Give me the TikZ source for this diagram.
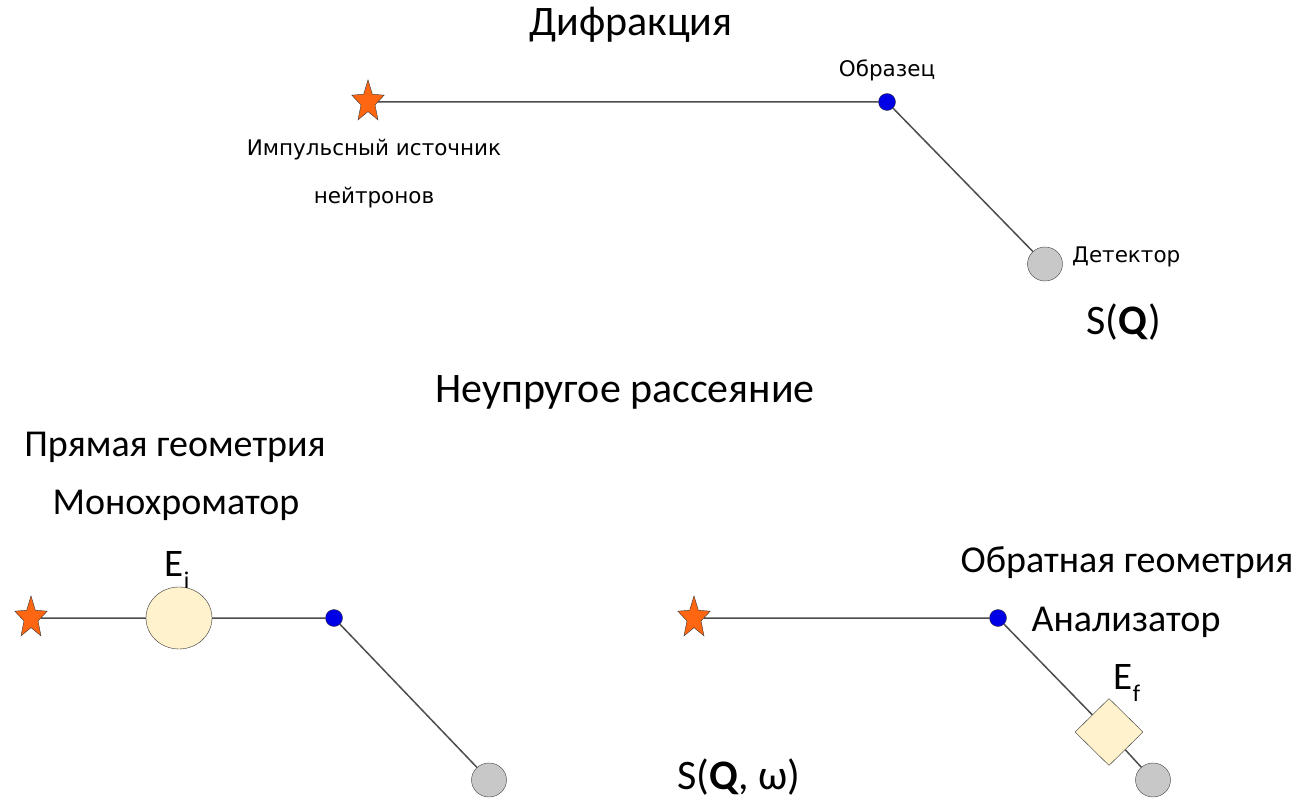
\documentclass[tikz,border=0pt]{standalone}
\usepackage{fontspec}
\setmainfont{Carlito}
\newfontfamily\labelfont{DejaVu Sans}
\usetikzlibrary{shapes.geometric}
\definecolor{starorange}{RGB}{255,102,17}
\definecolor{sampleblue}{RGB}{0,0,230}
\definecolor{detgray}{RGB}{200,200,200}
\definecolor{crystal}{RGB}{255,242,204}
\newcommand{\esub}[1]{\raisebox{-0.3em}{\fontsize{24}{24}\selectfont #1}}
\tikzset{%
    source/.style={star, star points=5, star point ratio=2.3, draw=black!80,
        fill=starorange, minimum size=34pt, inner sep=0pt, yscale=1.3, transform shape},
    sample/.style={circle, draw=black!80, fill=sampleblue, minimum size=17pt, inner sep=0pt},
    detector/.style={ellipse, draw=black!75, fill=detgray, minimum width=35pt,
        minimum height=34pt, inner sep=0pt},
    mono/.style={ellipse, draw=black!80, fill=crystal, minimum width=66pt,
        minimum height=62pt, inner sep=0pt},
    analyzer/.style={diamond, draw=black!80, fill=crystal, minimum width=68pt,
        minimum height=67pt, inner sep=0pt},
    beam/.style={draw=black!70, line width=1.5pt},
    bigtext/.style={font=\fontsize{42}{50}\selectfont, inner sep=0pt},
    midtext/.style={font=\fontsize{38}{46}\selectfont, inner sep=0pt},
    energy/.style={font=\fontsize{39}{46}\selectfont, inner sep=0pt},
    smalltext/.style={font=\labelfont\fontsize{21.5}{26}\selectfont, inner sep=0pt}
}

\begin{document}
\begin{tikzpicture}[x=1pt,y=-1pt]
	\useasboundingbox (0,0) rectangle (1297,802);
	% diffraction
	\node[bigtext] (tdif) at (631,25) {Дифракция};
	\node[source] (src1) at (368,102) {};
	\node[sample] (smp1) at (887,102) {};
	\node[detector] (det1) at (1045,264) {};
	\draw[beam] (src1) -- (smp1) -- (det1);
	\node[smalltext] (tsmp) at (887,70) {Образец};
	\node[smalltext] (tsrc1) at (374,150) {Импульсный источник};
	\node[smalltext] (tsrc2) at (374,198) {нейтронов};
	\node[smalltext, anchor=west] (tdet) at (1072,257) {Детектор};
	\node[bigtext] (sq) at (1124,322) {S(\textbf{Q})};
	% inelastic
	\node[bigtext] (tinel) at (625,392) {Неупругое рассеяние};
	% direct geometry
	\node[midtext] (tdir) at (175,447) {Прямая геометрия};
	\node[midtext] (tmono) at (176,505) {Монохроматор};
	\node[source] (src2) at (31,618) {};
	\node[mono] (mono) at (179,618) {};
	\node[sample] (smp2) at (334,618) {};
	\node[detector] (det2) at (489,780) {};
	\draw[beam] (src2) -- (mono) -- (smp2) -- (det2);
	\node[energy] (ei) at (177,570) {E\esub{i}};
	% inverse geometry
	\node[midtext] (tinv) at (1127,563) {Обратная геометрия};
	\node[midtext] (tana) at (1126,622) {Анализатор};
	\node[source] (src3) at (694,618) {};
	\node[sample] (smp3) at (998,618) {};
	\node[analyzer] (ana) at (1109,732) {};
	\node[detector] (det3) at (1153,780) {};
	\draw[beam] (src3) -- (smp3) -- (ana) -- (det3);
	\node[energy] (ef) at (1127,683) {E\esub{f}};
	\node[bigtext] (sqw) at (739,777) {S(\textbf{Q}, ω)};
\end{tikzpicture}
\end{document}
